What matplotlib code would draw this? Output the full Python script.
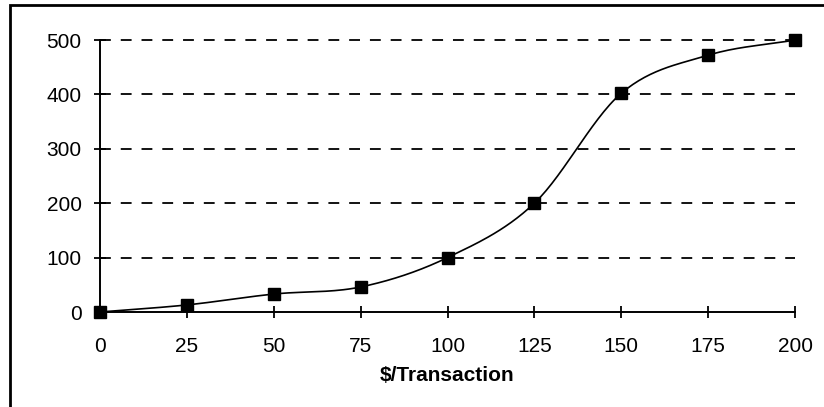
import matplotlib
matplotlib.use("Agg")
import matplotlib.pyplot as plt
import numpy as np
from matplotlib.patches import Rectangle

x_vals = [0, 25, 50, 75, 100, 125, 150, 175, 200]
y_vals = [0, 13, 33, 46, 100, 200, 402, 472, 500]
x_ticks = [0, 25, 50, 75, 100, 125, 150, 175, 200]
y_ticks = [0, 100, 200, 300, 400, 500]
x_label = "$/Transaction"

plt.rcParams['font.family'] = ['Liberation Sans', 'DejaVu Sans']

def catmull_rom(xs, ys, n=30):
    xs = np.asarray(xs, float); ys = np.asarray(ys, float)
    px = np.concatenate([[2*xs[0]-xs[1]], xs, [2*xs[-1]-xs[-2]]])
    py = np.concatenate([[2*ys[0]-ys[1]], ys, [2*ys[-1]-ys[-2]]])
    ox, oy = [], []
    for i in range(1, len(px)-2):
        t = np.linspace(0, 1, n, endpoint=False)
        for arr, out in ((px, ox), (py, oy)):
            p0, p1, p2, p3 = arr[i-1], arr[i], arr[i+1], arr[i+2]
            out.extend(0.5*((2*p1) + (-p0+p2)*t + (2*p0-5*p1+4*p2-p3)*t**2 + (-p0+3*p1-3*p2+p3)*t**3))
    ox.append(xs[-1]); oy.append(ys[-1])
    return np.array(ox), np.array(oy)

fig = plt.figure(figsize=(8.24, 4.07), dpi=100)
ax = fig.add_axes([100/824, 1-312/407, (795-100)/824, (312-40)/407])

sx, sy = catmull_rom(x_vals, y_vals)
ax.plot(sx, sy, color='black', lw=1.2, zorder=3, clip_on=False)
ax.plot(x_vals, y_vals, linestyle='none', marker='s', markersize=8.5, color='black', zorder=4, clip_on=False)

ax.set_xlim(0, 200)
ax.set_ylim(0, 500)
ax.set_xticks(x_ticks)
ax.set_yticks(y_ticks)
ax.tick_params(direction='inout', length=8.5, width=1.3, labelsize=15, colors='black')
ax.tick_params(axis='x', pad=14)
ax.tick_params(axis='y', pad=9)
for side in ('top', 'right'):
    ax.spines[side].set_visible(False)
for side in ('left', 'bottom'):
    ax.spines[side].set_linewidth(1.4)
for yv in y_ticks[1:]:
    ax.axhline(yv, color='black', lw=1.3, linestyle=(0, (6, 5.5)), zorder=1, clip_on=False)
ax.set_xlabel(x_label, fontsize=15, fontweight='bold', labelpad=7)

fig.patches.append(Rectangle((10/824, -0.1), 1.1, 1.1 - 5/407, transform=fig.transFigure,
                             fill=False, edgecolor='black', lw=2))
fig.savefig("out.png", dpi=100)
